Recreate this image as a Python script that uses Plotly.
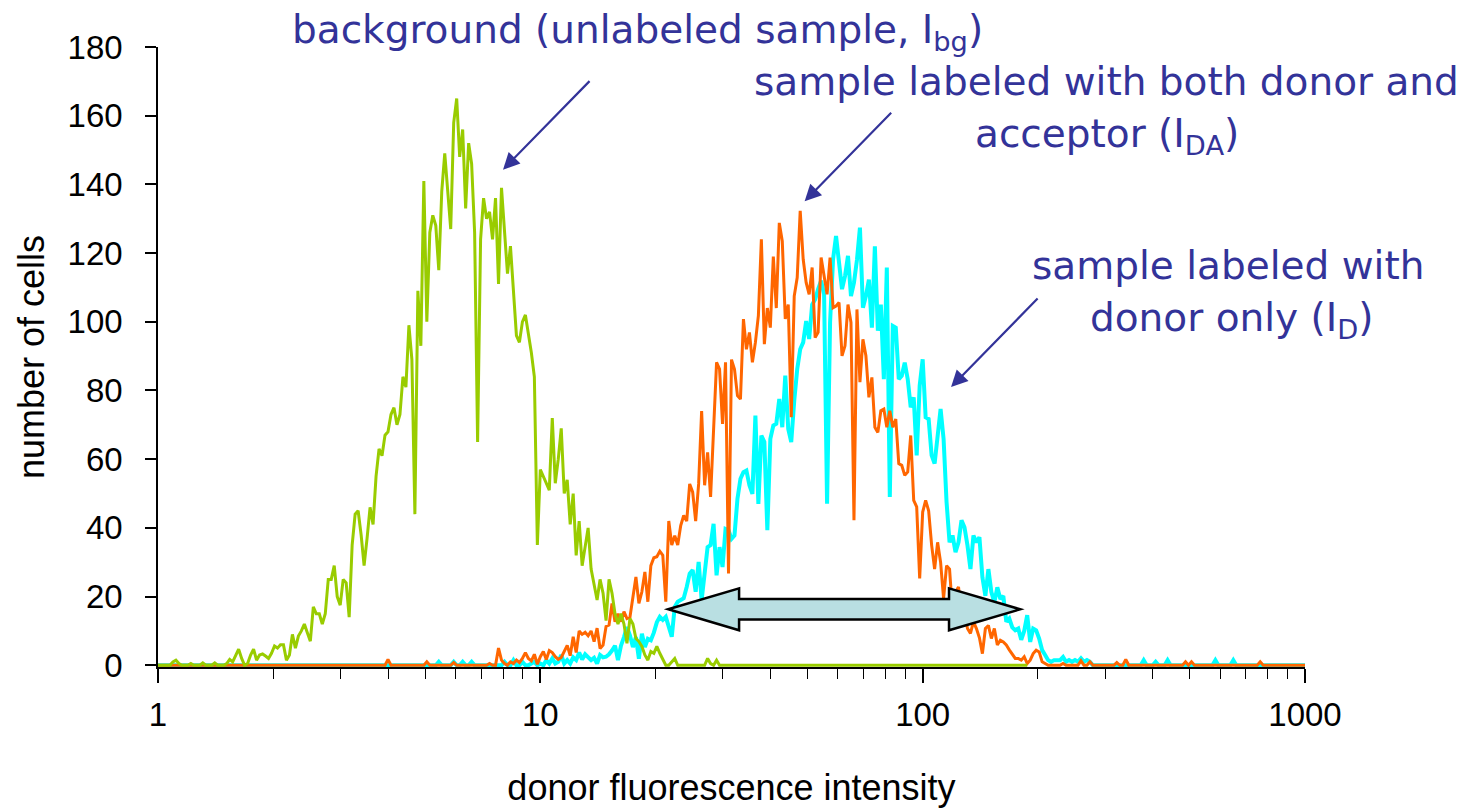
import plotly.graph_objects as go

# ---------------- data (histogram counts) ----------------
CHANNELS_PER_DECADE = 128          # log-scaled channels: channel 0 -> 1, channel 384 -> 1000
LAST_CHANNEL = 384

# background (unlabeled sample, I_bg) -- green
green_start = 0
green_counts = [
    0, 0, 0, 0, 0, 1, 1.5, 0.5, 0, 0,
    0, 0.5, 0, 0, 0, 0.7, 0, 0, 0, 0.7,
    0, 0, 0, 0.5, 1.7, 1, 3, 4.7, 2, 0,
    0.5, 3, 4.7, 1.5, 3, 3.3, 2.7, 2, 3.5, 5.6,
    5, 6, 6, 1.5, 3, 9, 5, 8.5, 10, 12,
    9.5, 7, 17, 15, 15, 12, 15, 25, 25, 29,
    20, 17.5, 25, 24, 14, 35, 44, 45, 38, 29,
    37, 46, 41, 55, 63, 61, 67, 68, 73, 75,
    70, 73, 84, 81, 99, 89, 44, 109, 93, 141,
    100, 126, 131, 128, 115, 138, 149, 137, 127, 158,
    165, 148, 156, 133, 152, 146, 126, 65, 124, 136,
    130, 132, 124, 136, 111, 139, 125, 114, 122, 109,
    96, 94, 100, 102, 97, 91, 84, 35, 57, 55,
    53, 51, 72, 53, 60, 69, 50, 54, 41, 50,
    32, 42, 29, 35, 40, 28, 24, 19, 25, 21,
    13, 25, 21, 15, 12, 15, 12, 6.4, 13.6, 12,
    7.8, 6.9, 5.5, 3, 1.5, 4, 3.5, 5.5, 3.5, 1.5,
    0, 0, 1, 2, 0, 0, 0, 0, 0, 0,
    0, 0, 0, 0, 2, 0.5, 0, 1.5,
]
green_sparse = {}
green_last = 291

# sample labeled with both donor and acceptor (I_DA) -- orange
orange_start = 113
orange_counts = [
    0, 5, 1.5, 0.5, 0, 1, 0.5, 1.5, 0.8, 2,
    3.7, 2, 1.3, 3.2, 0.3, 2.5, 4, 1.7, 4.3, 3.7,
    2.5, 1.7, 2.3, 4, 5.8, 2.8, 8.3, 3.7, 10, 9,
    9.6, 8.6, 10, 6.9, 10.8, 4.9, 5.9, 11.3, 11.7, 18,
    12.7, 15, 12.7, 15.6, 13.6, 14, 20, 25.7, 18, 21.4,
    27.2, 18.5, 29, 31.3, 31.6, 33.2, 32, 18.5, 42, 35,
    37.7, 35, 40.7, 43.6, 42, 52.8, 50.4, 42, 52.8, 74,
    52.4, 62, 49, 69.8, 88.2, 86.2, 70.3, 88.2, 26.7, 89,
    86.2, 78.5, 77.5, 100.8, 92, 96.9, 88.2, 94, 101.8, 124,
    93.5, 104, 98.3, 119, 104, 128.8, 123.5, 100.8, 105, 72.2,
    107.5, 112.9, 132.3, 118.2, 111.4, 108, 115.8, 95.4, 96.9, 118.7,
    113.3, 108, 118.7, 104.1, 104.6, 105.6, 90.1, 93, 105, 99.8,
    42.2, 103.6, 82.4, 94.9, 90.1, 78, 83.8, 69.3, 67.8, 74.1,
    74.6, 69.3, 74.1, 69.3, 71.7, 58.7, 58.2, 55.3, 56.3, 66.9,
    48, 46.1, 25.3, 44.6, 48, 45, 35, 28, 35.8, 30,
    19.4, 29, 28, 15.6, 21.4, 22.8, 14.6, 15.6, 10.7, 9.3,
    12.7, 10.7, 8, 3.4, 10.7, 11.6, 7.8, 10.7, 5.9, 7.3,
    6.8, 5.9, 4.5, 3.4, 2, 2, 1.5, 2.5, 0.5, 1.5,
    3.4, 4.4, 3.9, 1, 0.5,
]
orange_sparse = {77: 1.7, 90: 1, 99: 0.8, 111: 0.5, 303: 0.5, 309: 1.3, 312: 1,
                 321: 0.8, 324: 1.7, 344: 1, 346: 1, 369: 1}
orange_last = LAST_CHANNEL

# sample labeled with donor only (I_D) -- cyan
cyan_start = 125
cyan_counts = [
    0.5, 1, 0, 0.5, 0, 1.5, 0.5, 2, 0.5, 1,
    3, 0.5, 1.5, 0.5, 2.3, 1.5, 3.7, 1.7, 3.2, 2.5,
    1.5, 2.2, 0.5, 3, 2.3, 2.5, 3.2, 4.3, 5.7, 1.5,
    5.7, 8.2, 11.1, 8.7, 5.3, 8.2, 1.9, 9.2, 5.3, 7.7,
    7.3, 9.5, 12.5, 14.1, 13.2, 14.1, 10.7, 8.3, 17, 18.5,
    19, 19.5, 22.8, 26.7, 27.7, 21.4, 30.1, 19, 26.7, 34.4,
    35, 41.2, 26.2, 34.4, 28.6, 39.7, 39.3, 36.8, 37.8, 48.5,
    54.3, 56.2, 56.7, 52.4, 49.9, 72.7, 47, 66.9, 65, 39.3,
    65.9, 69.8, 70.3, 77.5, 69.3, 84.3, 68.8, 65, 77, 86.2,
    92, 94, 100.2, 95, 105, 106.5, 109.5, 112, 108, 47,
    99.8, 118.2, 125, 117.2, 109.5, 113.3, 119.2, 107.5, 111.4, 118,
    127.4, 104.1, 107.5, 112.3, 98.3, 122, 97.4, 105, 83.3, 115.8,
    49, 98.8, 98.3, 83.3, 84.3, 88.1, 83.3, 75.1, 78, 61.1,
    81.4, 89.1, 72.2, 71.7, 61.1, 58.7, 66, 74.6, 65.9, 47.5,
    35.8, 37.8, 32.9, 35.8, 42.2, 40.2, 34.9, 28, 37.8, 35.8,
    37.3, 25.6, 20.2, 28, 21.3, 18.3, 22.7, 19.3, 20.2, 12.7,
    13.6, 11, 10.2, 10.7, 7.4, 10, 14.6, 6.8, 10.7, 10.2,
    7.8, 4.4, 3, 1.5, 1, 1.5, 1.5, 1.5, 2.4, 1,
    1.5, 1, 1.5, 1, 2, 1, 1.5, 1, 0,
]
cyan_sparse = {94: 1, 99: 1, 102: 1, 105: 1, 116: 1, 119: 1.5, 122: 1,
               330: 1.5, 334: 1, 338: 1.5, 354: 1.5, 360: 1.5}
cyan_last = LAST_CHANNEL

# axes ticks
x_major_ticks = [1, 10, 100, 1000]
x_major_labels = ["1", "10", "100", "1000"]
x_minor_ticks = [2, 3, 4, 5, 6, 7, 8, 9, 20, 30, 40, 50, 60, 70, 80, 90,
                 200, 300, 400, 500, 600, 700, 800, 900]
y_ticks = [0, 20, 40, 60, 80, 100, 120, 140, 160, 180]

# double-headed arrow (spread between the two labeled samples), data coords
arrow_tip_left = 21.6
arrow_head_left = 33.1
arrow_head_right = 117.2
arrow_tip_right = 180.0
arrow_mid_y = 16.3
arrow_head_half = 6.1
arrow_shaft_half = 3.0


def build(start, block, sparse, last):
    counts = [0.0] * (last + 1)
    for i, v in enumerate(block):
        counts[start + i] = v
    for ch, v in sparse.items():
        counts[ch] = v
    x = [10 ** (ch / CHANNELS_PER_DECADE) for ch in range(last + 1)]
    return x, counts


gx, gy = build(green_start, green_counts, green_sparse, green_last)
ox, oy = build(orange_start, orange_counts, orange_sparse, orange_last)
cx, cy = build(cyan_start, cyan_counts, cyan_sparse, cyan_last)

AX_FONT = "Liberation Sans, Arial, sans-serif"
TXT_FONT = "DejaVu Sans, sans-serif"
BLUE = "#333399"

fig = go.Figure()
fig.add_trace(go.Scatter(x=cx, y=cy, mode="lines", name="donor only (I_D)",
                         line=dict(color="#00FFFF", width=4)))
fig.add_trace(go.Scatter(x=ox, y=oy, mode="lines", name="donor and acceptor (I_DA)",
                         line=dict(color="#FF6600", width=3)))
fig.add_trace(go.Scatter(x=gx, y=gy, mode="lines", name="background (I_bg)",
                         line=dict(color="#99CC00", width=3)))

# double arrow shape
ys_top_head = arrow_mid_y + arrow_head_half
ys_bot_head = arrow_mid_y - arrow_head_half
ys_top_sh = arrow_mid_y + arrow_shaft_half
ys_bot_sh = arrow_mid_y - arrow_shaft_half
path = (f"M {arrow_tip_left},{arrow_mid_y} L {arrow_head_left},{ys_top_head} "
        f"L {arrow_head_left},{ys_top_sh} L {arrow_head_right},{ys_top_sh} "
        f"L {arrow_head_right},{ys_top_head} L {arrow_tip_right},{arrow_mid_y} "
        f"L {arrow_head_right},{ys_bot_head} L {arrow_head_right},{ys_bot_sh} "
        f"L {arrow_head_left},{ys_bot_sh} L {arrow_head_left},{ys_bot_head} Z")
fig.add_shape(type="path", path=path, xref="x", yref="y",
              fillcolor="#B9DFE2", line=dict(color="black", width=2.5), layer="above")

# text annotations (paper coordinates so text above the axis range still shows)
text_font = dict(family=TXT_FONT, size=39, color=BLUE)
texts = [
    ("background (unlabeled sample, I<sub>bg</sub>)", 0.418, 1.025),
    ("sample labeled with both donor and", 0.827, 0.944),
    ("acceptor (I<sub>DA</sub>)", 0.827, 0.856),
    ("sample labeled with", 0.933, 0.647),
    ("donor only (I<sub>D</sub>)", 0.936, 0.559),
]
for t, px_, py_ in texts:
    fig.add_annotation(text=t, x=px_, y=py_, xref="paper", yref="paper", showarrow=False,
                       font=text_font, xanchor="center", yanchor="middle")

# pointer arrows (tip in data coords, tail offset in pixels)
pointers = [(0.9024, 144.3), (1.6913, 135.1), (2.0743, 81.0)]
for lx, y in pointers:
    fig.add_annotation(text="", x=lx, y=y, xref="x", yref="y", showarrow=True,
                       ax=88, ay=-90, arrowhead=2, arrowsize=1.5, arrowwidth=2.2,
                       arrowcolor=BLUE, standoff=0)

fig.update_layout(
    width=1464, height=808, autosize=False,
    margin=dict(l=158, r=159, t=47, b=141),
    paper_bgcolor="white", plot_bgcolor="white",
    showlegend=False,
    xaxis=dict(type="log", range=[0, 3], showgrid=False, zeroline=False,
               showline=True, linecolor="black", linewidth=1.5,
               ticks="outside", ticklen=14, tickwidth=1.5, tickcolor="black",
               tickvals=x_major_ticks, ticktext=x_major_labels,
               tickfont=dict(family=AX_FONT, size=33, color="black"),
               ticklabelstandoff=4,
               minor=dict(ticks="outside", ticklen=10, tickwidth=1.2, tickcolor="black",
                          tickvals=x_minor_ticks, showgrid=False),
               title=dict(text="donor fluorescence intensity",
                          font=dict(family=AX_FONT, size=36, color="black"), standoff=44),
               automargin=False),
    yaxis=dict(range=[-0.5, 180], showgrid=False, zeroline=False,
               showline=True, linecolor="black", linewidth=1.5,
               ticks="outside", ticklen=11, tickwidth=1.5, tickcolor="black",
               tickvals=y_ticks,
               tickfont=dict(family=AX_FONT, size=33, color="black"),
               ticklabelstandoff=16,
               title=dict(text="number of cells",
                          font=dict(family=AX_FONT, size=36, color="black"),
                          standoff=12),
               automargin=False),
)

fig.write_html("out.html")
